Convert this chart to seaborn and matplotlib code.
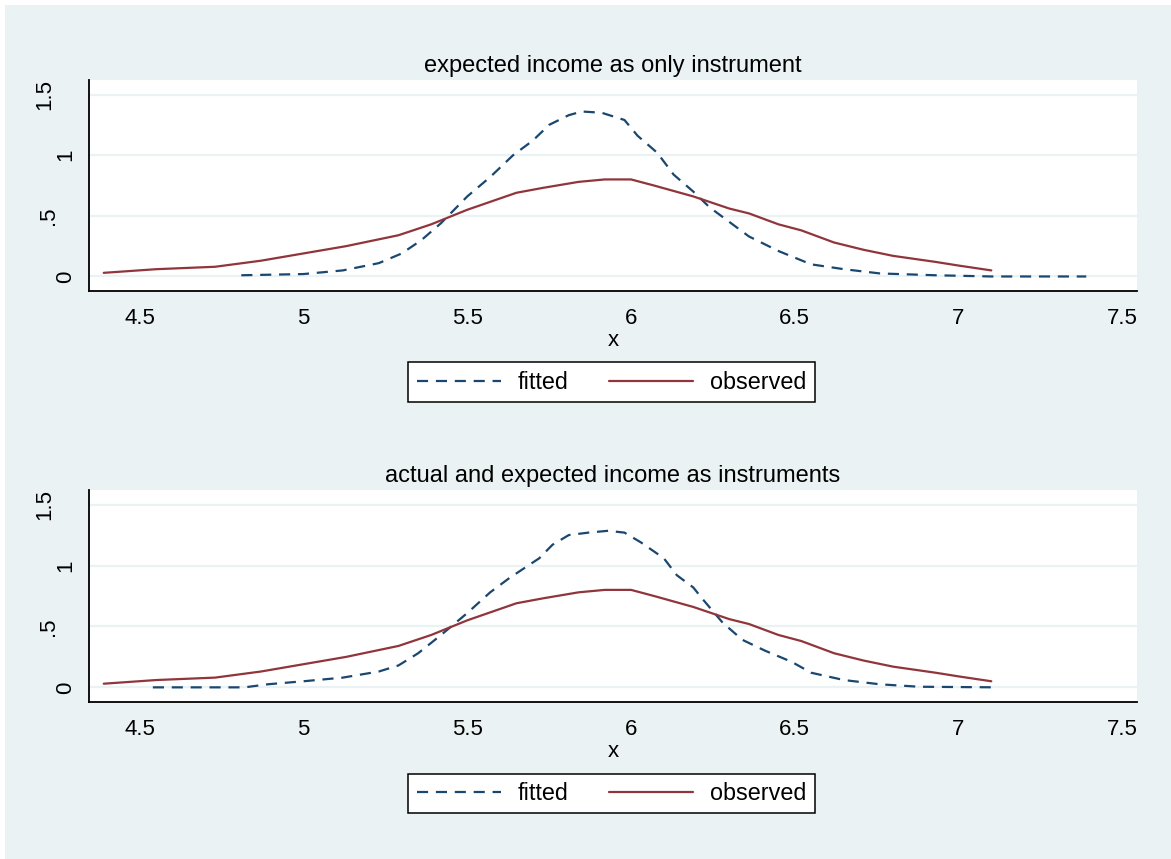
import numpy as np
import pandas as pd
import matplotlib
matplotlib.use("Agg")
import matplotlib.pyplot as plt
import matplotlib.transforms as mtransforms
import seaborn as sns

# observed density (same in both panels)
obs_x = [4.39, 4.55, 4.73, 4.87, 5.00, 5.13, 5.29, 5.39, 5.50, 5.65, 5.73,
         5.84, 5.92, 6.00, 6.07, 6.19, 6.30, 6.36, 6.45, 6.52, 6.62, 6.71,
         6.80, 6.93, 7.00, 7.10]
obs_y = [0.03, 0.06, 0.08, 0.13, 0.19, 0.25, 0.34, 0.43, 0.55, 0.69, 0.73,
         0.78, 0.80, 0.80, 0.75, 0.66, 0.56, 0.52, 0.43, 0.38, 0.28, 0.22,
         0.17, 0.12, 0.09, 0.05]

# fitted density, top panel
fit1_x = [4.81, 5.00, 5.12, 5.23, 5.30, 5.36, 5.42, 5.50, 5.57, 5.64, 5.70,
          5.75, 5.81, 5.85, 5.91, 5.98, 6.02, 6.08, 6.13, 6.19, 6.24, 6.31,
          6.36, 6.45, 6.55, 6.65, 6.76, 6.93, 7.10, 7.39]
fit1_y = [0.01, 0.02, 0.05, 0.11, 0.19, 0.30, 0.44, 0.66, 0.82, 1.00, 1.12,
          1.25, 1.33, 1.36, 1.35, 1.29, 1.16, 1.02, 0.84, 0.70, 0.57, 0.43,
          0.33, 0.21, 0.10, 0.06, 0.025, 0.01, 0.0, 0.0]

# fitted density, bottom panel
fit2_x = [4.54, 4.66, 4.82, 4.89, 5.00, 5.12, 5.23, 5.29, 5.35, 5.42, 5.50,
          5.57, 5.63, 5.72, 5.76, 5.81, 5.87, 5.93, 5.98, 6.03, 6.10, 6.14,
          6.19, 6.22, 6.28, 6.34, 6.41, 6.49, 6.55, 6.65, 6.76, 6.88, 7.12]
fit2_y = [0.0, 0.0, 0.0, 0.025, 0.05, 0.08, 0.13, 0.18, 0.28, 0.43, 0.61,
          0.78, 0.90, 1.06, 1.17, 1.25, 1.27, 1.285, 1.27, 1.19, 1.06, 0.92,
          0.82, 0.72, 0.53, 0.39, 0.30, 0.21, 0.12, 0.06, 0.025, 0.005, 0.0]

titles = ["expected income as only instrument",
          "actual and expected income as instruments"]
x_ticks = [4.5, 5, 5.5, 6, 6.5, 7, 7.5]
x_tick_labels = ["4.5", "5", "5.5", "6", "6.5", "7", "7.5"]
y_ticks = [0, 0.5, 1, 1.5]
y_tick_labels = ["0", ".5", "1", "1.5"]

NAVY = "#1a476f"
MAROON = "#90353b"
BG = "#eaf2f3"

sns.set_style("white")
plt.rcParams['font.family'] = ['Liberation Sans', 'DejaVu Sans']
plt.rcParams['text.color'] = 'black'
plt.rcParams['axes.labelcolor'] = 'black'
plt.rcParams['xtick.color'] = 'black'
plt.rcParams['ytick.color'] = 'black'

FS_TITLE = 17
FS_TICK = 16
FS_LEG = 16.8

fig = plt.figure(figsize=(11.71, 8.59), dpi=100)
fig.patch.set_facecolor("white")
# stata-like graph region, white strip at top/left
fig.patches.append(plt.Rectangle((5 / 1171, 0), 1, 1 - 5 / 859,
                                 transform=fig.transFigure,
                                 facecolor=BG, edgecolor="none", zorder=-10))

panels = [
    (fit1_x, fit1_y, [0.076, 0.6612, 0.895, 0.2457]),
    (fit2_x, fit2_y, [0.076, 0.1828, 0.895, 0.2468]),
]

# stata pushes the dotted y labels further left
label_shift = {".5": -17, "1.5": -21}

for i, (fx, fy, rect) in enumerate(panels):
    ax = fig.add_axes(rect)
    ax.set_facecolor("white")

    for yt in y_ticks:
        ax.axhline(yt, color=BG, lw=1.6, zorder=0)

    sns.lineplot(x=fx, y=fy, ax=ax, color=NAVY, lw=1.6,
                 label="fitted", dashes=False)
    ax.lines[-1].set_dashes((5, 3.5))
    sns.lineplot(x=obs_x, y=obs_y, ax=ax, color=MAROON, lw=1.6,
                 label="observed")

    ax.set_xlim(4.345, 7.545)
    ax.set_ylim(-0.12, 1.62)
    ax.set_xticks(x_ticks)
    ax.set_xticklabels(x_tick_labels, fontsize=FS_TICK)
    ax.set_yticks(y_ticks)
    ax.set_yticklabels(y_tick_labels, fontsize=FS_TICK, rotation=90,
                       va="center")
    ax.tick_params(axis="x", direction="out", length=5.5, width=1.1, pad=6.5)
    ax.tick_params(axis="y", direction="out", length=6, width=1.1, pad=3.5)
    for side in ["top", "right"]:
        ax.spines[side].set_visible(False)
    for side in ["left", "bottom"]:
        ax.spines[side].set_color("black")
        ax.spines[side].set_linewidth(1.3)

    for lab in ax.get_yticklabels():
        dx = label_shift.get(lab.get_text(), 0)
        if dx:
            off = mtransforms.ScaledTranslation(dx / 100, 0,
                                                fig.dpi_scale_trans)
            lab.set_transform(lab.get_transform() + off)

    ax.set_title(titles[i], fontsize=FS_TITLE, pad=6)
    ax.set_xlabel("x", fontsize=FS_TICK, labelpad=1)
    ax.set_ylabel("")

    leg = ax.legend(loc="upper center", bbox_to_anchor=(0.4985, -0.283),
                    ncol=2, fontsize=FS_LEG, frameon=True, fancybox=False,
                    handlelength=3.6, columnspacing=1.72, borderpad=0.36,
                    handletextpad=0.73)
    leg.get_frame().set_edgecolor("black")
    leg.get_frame().set_linewidth(1.1)
    leg.get_frame().set_facecolor("white")
    leg.get_frame().set_alpha(1)

fig.savefig("out.png", dpi=100, facecolor=fig.get_facecolor())
